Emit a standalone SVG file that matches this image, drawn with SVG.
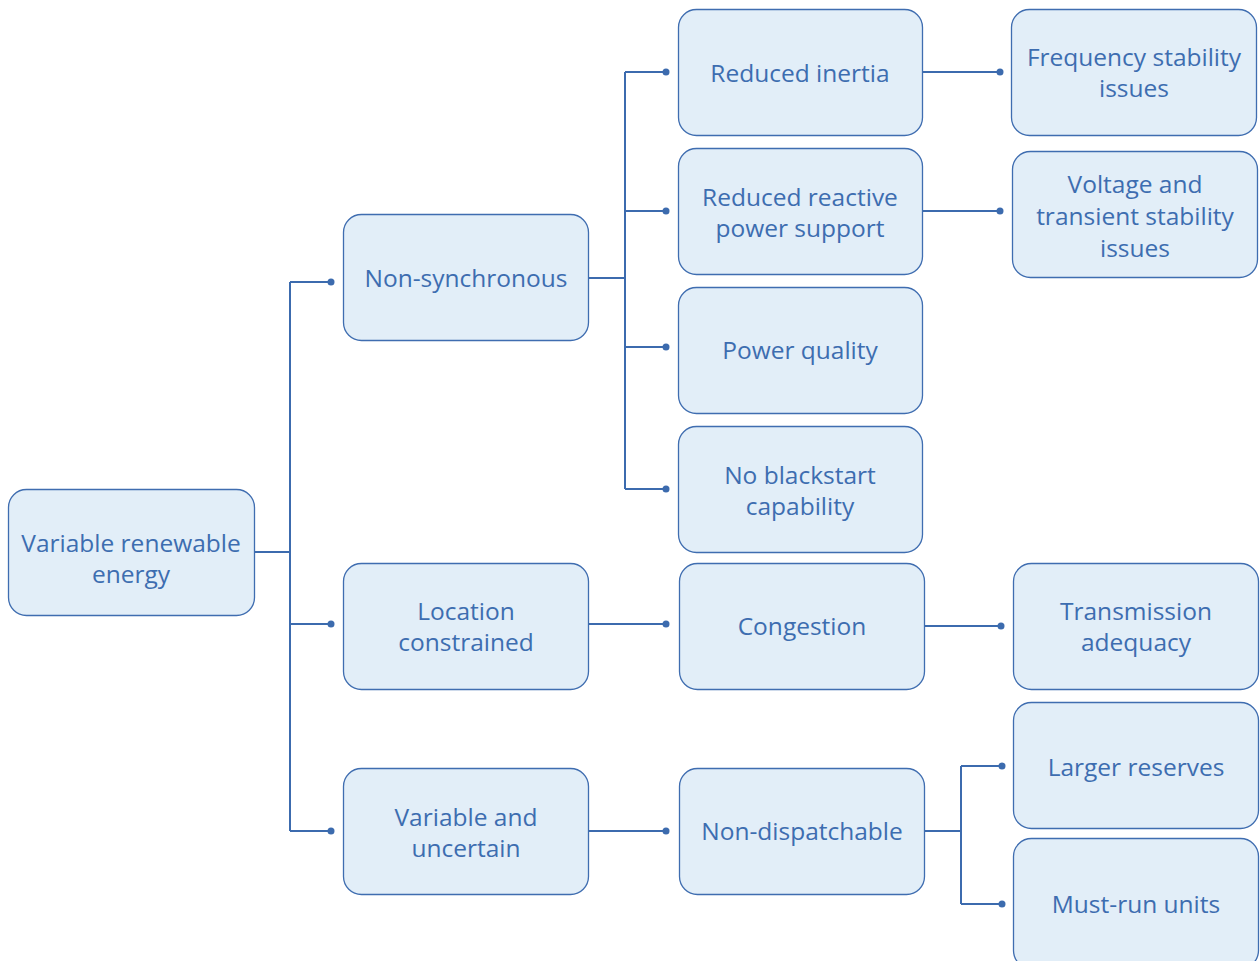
<svg xmlns="http://www.w3.org/2000/svg" width="1260" height="961" viewBox="0 0 1260 961">
<defs>
<style>
.box{fill:#E2EEF8;stroke:#3F6DB0;stroke-width:1.3}
.t{font-family:"Open Sans","Liberation Sans",sans-serif;font-size:24.5px;fill:#3D6DB0;text-anchor:middle;dominant-baseline:central}
.c{fill:none;stroke:#3C6BAE;stroke-width:2}
.d{fill:#3C6BAE}
</style>
</defs>
<rect width="1260" height="961" fill="#fff"/>
<g id="connectors">
<path class="c" d="M254 552H290M290 282V831M290 282H331M290 624H331M290 831H331"/>
<path class="c" d="M588 278H625M625 72V489M625 72H666M625 211H666M625 347H666M625 489H666"/>
<path class="c" d="M922 72H1000M922 211H1000M588 624H666M924 626H1001M588 831H666"/>
<path class="c" d="M924 831H961M961 766V904M961 766H1002M961 904H1002"/>
<circle class="d" cx="331" cy="282" r="3.5"/><circle class="d" cx="331" cy="624" r="3.5"/><circle class="d" cx="331" cy="831" r="3.5"/>
<circle class="d" cx="666" cy="72" r="3.5"/><circle class="d" cx="666" cy="211" r="3.5"/><circle class="d" cx="666" cy="347" r="3.5"/><circle class="d" cx="666" cy="489" r="3.5"/>
<circle class="d" cx="1000" cy="72" r="3.5"/><circle class="d" cx="1000" cy="211" r="3.5"/><circle class="d" cx="666" cy="624" r="3.5"/><circle class="d" cx="1001" cy="626" r="3.5"/><circle class="d" cx="666" cy="831" r="3.5"/>
<circle class="d" cx="1002" cy="766" r="3.5"/><circle class="d" cx="1002" cy="904" r="3.5"/>
</g>
<g id="vre"><rect class="box" x="8.5" y="489.5" width="246" height="126" rx="18"/><text class="t" x="131" y="542">Variable renewable</text><text class="t" x="131" y="573">energy</text></g>
<g id="nonsync"><rect class="box" x="343.5" y="214.5" width="245" height="126" rx="18"/><text class="t" x="466" y="277">Non-synchronous</text></g>
<g id="location"><rect class="box" x="343.5" y="563.5" width="245" height="126" rx="18"/><text class="t" x="466" y="610">Location</text><text class="t" x="466" y="641">constrained</text></g>
<g id="variable"><rect class="box" x="343.5" y="768.5" width="245" height="126" rx="18"/><text class="t" x="466" y="816">Variable and</text><text class="t" x="466" y="847">uncertain</text></g>
<g id="inertia"><rect class="box" x="678.5" y="9.5" width="244" height="126" rx="18"/><text class="t" x="800" y="72">Reduced inertia</text></g>
<g id="reactive"><rect class="box" x="678.5" y="148.5" width="244" height="126" rx="18"/><text class="t" x="800" y="196">Reduced reactive</text><text class="t" x="800" y="227">power support</text></g>
<g id="quality"><rect class="box" x="678.5" y="287.5" width="244" height="126" rx="18"/><text class="t" x="800" y="349">Power quality</text></g>
<g id="blackstart"><rect class="box" x="678.5" y="426.5" width="244" height="126" rx="18"/><text class="t" x="800" y="474">No blackstart</text><text class="t" x="800" y="505">capability</text></g>
<g id="congestion"><rect class="box" x="679.5" y="563.5" width="245" height="126" rx="18"/><text class="t" x="802" y="625">Congestion</text></g>
<g id="nondispatch"><rect class="box" x="679.5" y="768.5" width="245" height="126" rx="18"/><text class="t" x="802" y="830">Non-dispatchable</text></g>
<g id="frequency"><rect class="box" x="1011.5" y="9.5" width="245" height="126" rx="18"/><text class="t" x="1134" y="56">Frequency stability</text><text class="t" x="1134" y="87">issues</text></g>
<g id="voltage"><rect class="box" x="1012.5" y="151.5" width="245" height="126" rx="18"/><text class="t" x="1135" y="183">Voltage and</text><text class="t" x="1135" y="215">transient stability</text><text class="t" x="1135" y="247">issues</text></g>
<g id="transmission"><rect class="box" x="1013.5" y="563.5" width="245" height="126" rx="18"/><text class="t" x="1136" y="610">Transmission</text><text class="t" x="1136" y="641">adequacy</text></g>
<g id="reserves"><rect class="box" x="1013.5" y="702.5" width="245" height="126" rx="18"/><text class="t" x="1136" y="766">Larger reserves</text></g>
<g id="mustrun"><rect class="box" x="1013.5" y="838.5" width="245" height="130" rx="18"/><text class="t" x="1136" y="903">Must-run units</text></g>
</svg>
